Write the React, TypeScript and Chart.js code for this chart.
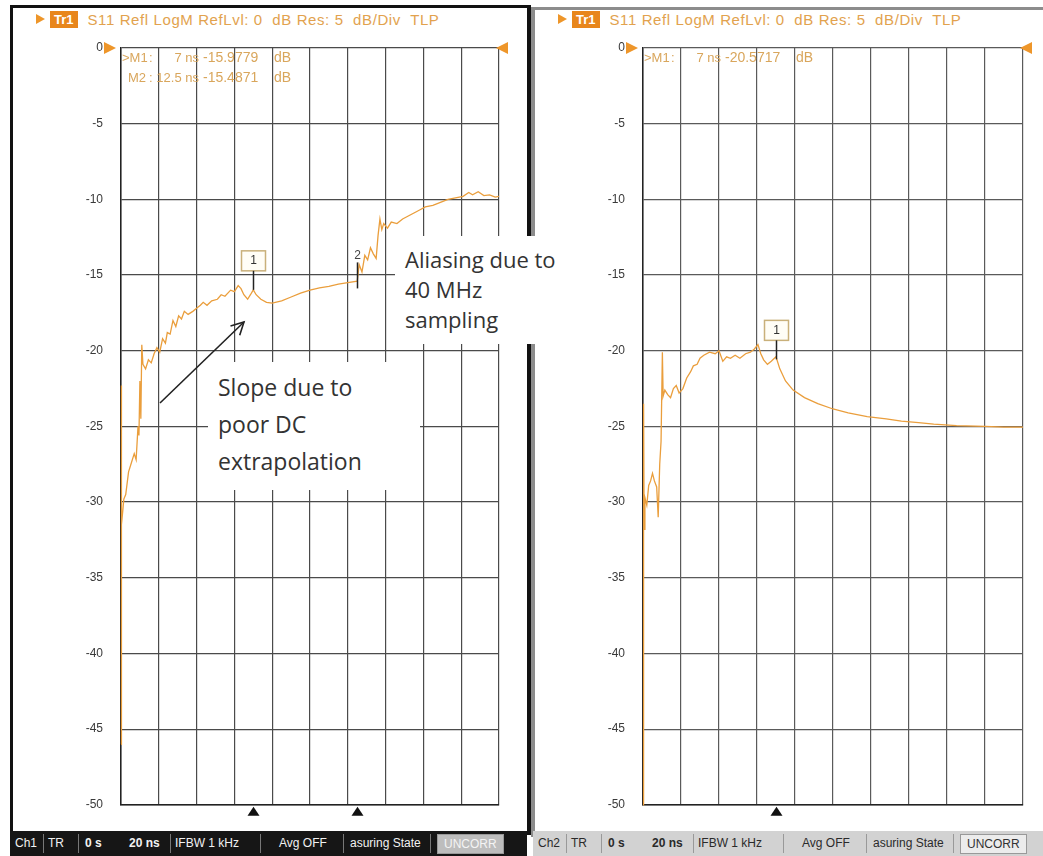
import React, { useEffect, useRef } from 'react';
import { Chart, registerables } from 'chart.js';

Chart.register(...registerables);

// ---------- data ----------
const yTickStep = 5; // dB/div
const refLevel = 0;
const yMin = -50;
const timeStartNs = 0;
const timeStopNs = 20;
const timeDivNs = 2;

const leftTimes = [
  0, 0.01, 0.02, 0.04, 0.1, 0.15, 0.25, 0.4, 0.55, 0.7, 0.8, 0.9, 0.95, 1.0, 1.05, 1.1, 1.16, 1.3, 1.45, 1.6,
  1.75, 1.9, 2.05, 2.2, 2.35, 2.45, 2.6, 2.75, 2.9, 3.05, 3.2, 3.35, 3.55, 3.8, 4.0, 4.2, 4.35, 4.55, 4.8, 5.1,
  5.3, 5.5, 5.8, 6.0, 6.2, 6.35, 6.5, 6.7, 6.85, 7.0, 7.15, 7.4, 7.7, 8.0, 8.5, 9.0, 9.5, 10.0, 10.5, 11.0,
  11.5, 12.0, 12.5, 12.6, 12.75, 12.9, 13.05, 13.2, 13.35, 13.5, 13.6, 13.7, 13.8, 13.9, 14.1, 14.3, 14.6, 14.9, 15.2, 15.5,
  15.8, 16.1, 16.5, 16.9, 17.3, 17.7, 18.1, 18.4, 18.6, 18.9, 19.2, 19.5, 19.8, 20,
];
const leftValues = [
  -46, -36.8, -22.3, -31.5, -30.5, -29.8, -29.5, -28.0, -27.4, -26.8, -27.2, -25.0, -25.6, -22.0, -24.5, -19.6, -20.9, -21.2, -20.6, -20.8,
  -20.2, -19.8, -20.1, -19.2, -19.5, -18.8, -18.9, -18.0, -18.4, -17.7, -17.9, -17.4, -17.6, -17.4, -17.2, -17.0, -16.8, -17.0, -16.7, -16.6,
  -16.3, -16.4, -16.0, -16.1, -15.7, -15.9, -16.3, -16.6, -16.3, -15.98, -16.3, -16.6, -16.8, -16.85, -16.7, -16.45, -16.2, -16.0, -15.85, -15.75,
  -15.6, -15.5, -15.4, -14.3, -14.8, -13.7, -14.0, -13.2, -13.6, -13.9, -12.4, -11.3, -12.0, -11.6, -11.9, -11.5, -11.6, -11.3, -11.1, -10.9,
  -10.7, -10.5, -10.4, -10.2, -10.0, -9.9, -9.8, -9.55, -9.7, -9.5, -9.75, -9.7, -9.85, -9.8,
];

const rightTimes = [
  0, 0.02, 0.04, 0.06, 0.1, 0.2, 0.3, 0.4, 0.5, 0.6, 0.72, 0.8, 0.88, 0.95, 1.02, 1.06, 1.15, 1.3, 1.45, 1.6,
  1.75, 1.9, 2.1, 2.3, 2.5, 2.65, 2.85, 3.0, 3.2, 3.5, 3.8, 4.0, 4.2, 4.4, 4.6, 4.85, 5.1, 5.4, 5.65, 5.85,
  6.05, 6.2, 6.35, 6.55, 6.75, 7.0, 7.2, 7.5, 7.9, 8.5, 9.2, 10.0, 10.8, 11.8, 12.8, 13.6, 14.5, 15.3, 16.5, 18,
  19, 20,
];
const rightValues = [
  -50, -33, -23.5, -31.8, -29.7, -30.2, -28.9, -28.6, -28.1, -28.6, -29.0, -31.0, -27.5, -26.0, -20.1, -23.0, -22.6, -22.9, -23.1, -22.5,
  -22.3, -22.8, -22.5, -21.8, -21.4, -21.0, -20.9, -20.5, -20.3, -20.1, -20.2, -20.0, -20.7, -20.4, -20.5, -20.3, -20.5, -20.2, -20.1, -19.9,
  -19.6, -20.2, -20.6, -20.9, -20.7, -20.4, -21.2, -22.0, -22.6, -23.1, -23.5, -23.85, -24.1, -24.35, -24.5, -24.65, -24.75, -24.85, -24.95, -25.0,
  -25.05, -25.05,
];

const leftMarkerLabels = ['1', '2'];
const leftMarkerTimes = [7, 12.5];
const leftMarkerValues = [-15.9779, -15.4871];
const leftMarkerBoxed = [true, false];
const rightMarkerLabels = ['1'];
const rightMarkerTimes = [7];
const rightMarkerValues = [-20.5717];
const rightMarkerBoxed = [true];

const leftReadoutNames = ['>M1', ' M2'];
const leftReadoutTimes = ['7 ns', '12.5 ns'];
const leftReadoutValues = ['-15.9779', '-15.4871'];
const rightReadoutNames = ['>M1'];
const rightReadoutTimes = ['7 ns'];
const rightReadoutValues = ['-20.5717'];

const traceHeader = 'S11 Refl LogM RefLvl: 0  dB Res: 5  dB/Div  TLP';
const leftStatus = ['Ch1', 'TR', '0 s', '20 ns', 'IFBW 1 kHz', 'Avg OFF', 'asuring State', 'UNCORR'];
const rightStatus = ['Ch2', 'TR', '0 s', '20 ns', 'IFBW 1 kHz', 'Avg OFF', 'asuring State', 'UNCORR'];
const aliasNote = ['Aliasing due to', '40 MHz', 'sampling'];
const slopeNote = ['Slope due to', 'poor DC', 'extrapolation'];

// ---------- styling ----------
const TRACE = '#ea9e3c';
const ORANGE = '#ee962a';
const READOUT = '#d9a65c';
const FONT = '"Liberation Sans", Arial, sans-serif';

const vnaDecor = {
  id: 'vnaDecor',
  afterDraw(chart: any, _a: any, opts: any) {
    const { ctx, chartArea: ca, scales } = chart;
    const xs = scales.x;
    const ys = scales.y;
    ctx.save();
    // reference level arrows
    const y0 = ys.getPixelForValue(refLevel);
    ctx.fillStyle = ORANGE;
    ctx.beginPath();
    ctx.moveTo(ca.left - 17, y0 - 6);
    ctx.lineTo(ca.left - 5, y0);
    ctx.lineTo(ca.left - 17, y0 + 6);
    ctx.closePath();
    ctx.fill();
    ctx.beginPath();
    ctx.moveTo(ca.right + 9, y0 - 6);
    ctx.lineTo(ca.right - 3, y0);
    ctx.lineTo(ca.right + 9, y0 + 6);
    ctx.closePath();
    ctx.fill();

    // marker readouts
    ctx.fillStyle = READOUT;
    ctx.textBaseline = 'middle';
    opts.readNames.forEach((n: string, i: number) => {
      const y = ca.top + 10 + i * 20;
      ctx.font = `13px ${FONT}`;
      ctx.textAlign = 'left';
      ctx.fillText(n.trim(), ca.left + (n.startsWith(' ') ? 7 : 1), y);
      ctx.fillText(':', ca.left + 28, y);
      ctx.textAlign = 'right';
      ctx.fillText(opts.readTimes[i], ca.left + 78, y);
      ctx.font = `14px ${FONT}`;
      ctx.textAlign = 'left';
      ctx.fillText(opts.readValues[i], ca.left + 82, y);
      ctx.fillText('dB', ca.left + 153, y);
    });

    // markers
    opts.markerTimes.forEach((t: number, i: number) => {
      const px = Math.round(xs.getPixelForValue(t)) + 0.5;
      const py = ys.getPixelForValue(opts.markerValues[i]);
      ctx.strokeStyle = '#222';
      ctx.lineWidth = 1.5;
      if (opts.markerBoxed[i]) {
        const bw = 24;
        const bh = 20;
        const bb = py - 19;
        ctx.fillStyle = '#fffdf6';
        ctx.fillRect(px - bw / 2, bb - bh, bw, bh);
        ctx.strokeStyle = '#c9b07a';
        ctx.lineWidth = 1.5;
        ctx.strokeRect(px - bw / 2, bb - bh, bw, bh);
        ctx.strokeStyle = '#222';
        ctx.beginPath();
        ctx.moveTo(px, bb);
        ctx.lineTo(px, py);
        ctx.stroke();
        ctx.fillStyle = '#333';
        ctx.font = `12px ${FONT}`;
        ctx.textAlign = 'center';
        ctx.fillText(opts.markerLabels[i], px, bb - bh / 2);
      } else {
        ctx.beginPath();
        ctx.moveTo(px, py - 20);
        ctx.lineTo(px, py + 6);
        ctx.stroke();
        ctx.fillStyle = '#444';
        ctx.font = `12px ${FONT}`;
        ctx.textAlign = 'center';
        ctx.fillText(opts.markerLabels[i], px, py - 27);
      }
      // bottom marker triangle
      ctx.fillStyle = '#111';
      ctx.beginPath();
      ctx.moveTo(px, ca.bottom + 2);
      ctx.lineTo(px + 6, ca.bottom + 11);
      ctx.lineTo(px - 6, ca.bottom + 11);
      ctx.closePath();
      ctx.fill();
    });
    ctx.restore();
  },
};

type PanelProps = {
  x: number;
  w: number;
  h: number;
  axisW: number;
  padRight: number;
  times: number[];
  values: number[];
  markerTimes: number[];
  markerValues: number[];
  markerBoxed: boolean[];
  markerLabels: string[];
  readNames: string[];
  readTimes: string[];
  readValues: string[];
  gridColor: string;
};

function Panel(p: PanelProps) {
  const ref = useRef<HTMLCanvasElement>(null);
  useEffect(() => {
    const chart = new Chart(ref.current as HTMLCanvasElement, {
      type: 'line',
      data: {
        datasets: [
          {
            data: p.times.map((t, i) => ({ x: t, y: p.values[i] })),
            borderColor: TRACE,
            borderWidth: 1.3,
            pointRadius: 0,
            tension: 0,
            fill: false,
            clip: false,
          } as any,
        ],
      },
      options: {
        animation: false,
        responsive: false,
        maintainAspectRatio: false,
        events: [],
        layout: { padding: { top: 48, bottom: 25, left: 0, right: p.padRight } },
        plugins: {
          legend: { display: false },
          tooltip: { enabled: false },
          vnaDecor: {
            markerTimes: p.markerTimes,
            markerValues: p.markerValues,
            markerBoxed: p.markerBoxed,
            markerLabels: p.markerLabels,
            readNames: p.readNames,
            readTimes: p.readTimes,
            readValues: p.readValues,
          },
        } as any,
        scales: {
          x: {
            type: 'linear',
            min: timeStartNs,
            max: timeStopNs,
            ticks: { display: false, stepSize: timeDivNs },
            grid: { color: p.gridColor, drawTicks: false, lineWidth: 1.2 },
            border: { display: true, color: '#222', width: 1.5 },
            afterFit: (s: any) => {
              s.height = 0;
            },
          },
          y: {
            min: yMin,
            max: refLevel,
            ticks: {
              stepSize: yTickStep,
              color: '#3a3a3a',
              padding: 18,
              font: { family: FONT, size: 12 },
            },
            grid: { color: p.gridColor, drawTicks: false, lineWidth: 1.2 },
            border: { display: true, color: '#222', width: 1.5 },
            afterFit: (s: any) => {
              s.width = p.axisW;
            },
          },
        },
      },
      plugins: [vnaDecor],
    });
    return () => chart.destroy();
  }, []);
  return (
    <canvas
      ref={ref}
      width={p.w}
      height={p.h}
      style={{ position: 'absolute', left: p.x, top: 0, width: p.w, height: p.h }}
    />
  );
}

function Header({ x }: { x: number }) {
  return (
    <div style={{ position: 'absolute', left: x, top: 10, height: 18, display: 'flex', alignItems: 'center', fontFamily: FONT }}>
      <div
        style={{
          width: 0,
          height: 0,
          borderTop: '5px solid transparent',
          borderBottom: '5px solid transparent',
          borderLeft: `9px solid ${ORANGE}`,
          marginRight: 5,
        }}
      />
      <div
        style={{
          background: '#e8861c',
          color: '#fff',
          fontSize: 13,
          fontWeight: 'bold',
          padding: '1px 4px',
          lineHeight: '15px',
          marginRight: 10,
        }}
      >
        Tr1
      </div>
      <div style={{ color: '#e2a24e', fontSize: 15, letterSpacing: '0.6px', whiteSpace: 'pre' }}>{traceHeader}</div>
    </div>
  );
}

const statusX = [0, 33, 70, 114, 160, 264, 335, 422];
const statusDiv = [33, 68, 160, 250, 333, 420];

function StatusBar({ x, w, items, dark }: { x: number; w: number; items: string[]; dark: boolean }) {
  return (
    <div
      style={{
        position: 'absolute',
        left: x,
        top: 831,
        width: w,
        height: 25,
        background: dark ? '#161616' : '#d2d2d2',
        fontFamily: FONT,
        fontSize: 12,
        color: dark ? '#f2f2f2' : '#2a2a2a',
      }}
    >
      {statusDiv.map((d, i) => (
        <div key={'d' + i} style={{ position: 'absolute', left: d, top: 3, width: 1, height: 19, background: dark ? '#777' : '#999' }} />
      ))}
      {items.map((t, i) => {
        const last = i === items.length - 1;
        return (
          <div
            key={i}
            style={{
              position: 'absolute',
              left: statusX[i] + 5,
              top: last ? 3 : 5,
              fontWeight: i === 2 || i === 3 ? 'bold' : 'normal',
              background: last ? (dark ? '#bdbdbd' : '#ececec') : 'transparent',
              color: last ? (dark ? '#f4f4f4' : '#333') : undefined,
              border: last ? '1px solid #999' : 'none',
              padding: last ? '2px 6px' : 0,
              whiteSpace: 'pre',
            }}
          >
            {t}
          </div>
        );
      })}
    </div>
  );
}

function Note({
  lines,
  x,
  y,
  w,
  h,
  size,
  lh,
  padTop,
}: {
  lines: string[];
  x: number;
  y: number;
  w: number;
  h: number;
  size: number;
  lh: number;
  padTop: number;
}) {
  return (
    <div
      style={{
        position: 'absolute',
        left: x,
        top: y,
        width: w,
        height: h,
        background: '#fff',
        zIndex: 5,
        fontFamily: '"Open Sans", "Noto Sans", sans-serif',
        fontSize: size,
        lineHeight: lh + 'px',
        color: '#333',
        boxSizing: 'border-box',
        paddingLeft: 10,
        paddingTop: padTop,
        whiteSpace: 'nowrap',
      }}
    >
      {lines.map((l, i) => (
        <div key={i}>{l}</div>
      ))}
    </div>
  );
}

export default function App() {
  useEffect(() => {
    document.body.style.margin = '0';
  }, []);
  return (
    <div style={{ position: 'fixed', left: 0, top: 0, width: 1043, height: 856, background: '#fff', overflow: 'hidden' }}>
      {/* panel frames */}
      <div
        style={{
          position: 'absolute',
          left: 10,
          top: 5,
          width: 521,
          height: 830,
          boxSizing: 'border-box',
          borderTop: '3px solid #111',
          borderLeft: '3px solid #111',
          borderRight: '4px solid #111',
        }}
      />
      <div
        style={{
          position: 'absolute',
          left: 531,
          top: 7,
          width: 530,
          height: 830,
          boxSizing: 'border-box',
          borderTop: '3px solid #8c8c8c',
          borderLeft: '4px solid #8c8c8c',
        }}
      />
      <Header x={36} />
      <Header x={558} />
      <Panel
        x={13}
        w={514}
        h={830}
        axisW={108}
        padRight={28}
        times={leftTimes}
        values={leftValues}
        markerTimes={leftMarkerTimes}
        markerValues={leftMarkerValues}
        markerBoxed={leftMarkerBoxed}
        markerLabels={leftMarkerLabels}
        readNames={leftReadoutNames}
        readTimes={leftReadoutTimes}
        readValues={leftReadoutValues}
        gridColor="#4a4a4a"
      />
      <Panel
        x={536}
        w={507}
        h={830}
        axisW={107}
        padRight={20}
        times={rightTimes}
        values={rightValues}
        markerTimes={rightMarkerTimes}
        markerValues={rightMarkerValues}
        markerBoxed={rightMarkerBoxed}
        markerLabels={rightMarkerLabels}
        readNames={rightReadoutNames}
        readTimes={rightReadoutTimes}
        readValues={rightReadoutValues}
        gridColor="#5a5a5a"
      />
      <StatusBar x={10} w={517} items={leftStatus} dark={true} />
      <StatusBar x={533} w={510} items={rightStatus} dark={false} />
      <Note lines={aliasNote} x={395} y={236} w={170} h={108} size={22} lh={30} padTop={8} />
      <Note lines={slopeNote} x={208} y={362} w={212} h={128} size={23} lh={37} padTop={7} />
      <svg
        width={1043}
        height={856}
        style={{ position: 'absolute', left: 0, top: 0, zIndex: 6, pointerEvents: 'none' }}
      >
        <line x1={160} y1={403} x2={244} y2={322} stroke="#222" strokeWidth={1.6} />
        <polyline points="239.7,335.3 244,322 230.5,325.9" fill="none" stroke="#222" strokeWidth={1.6} />
      </svg>
    </div>
  );
}
